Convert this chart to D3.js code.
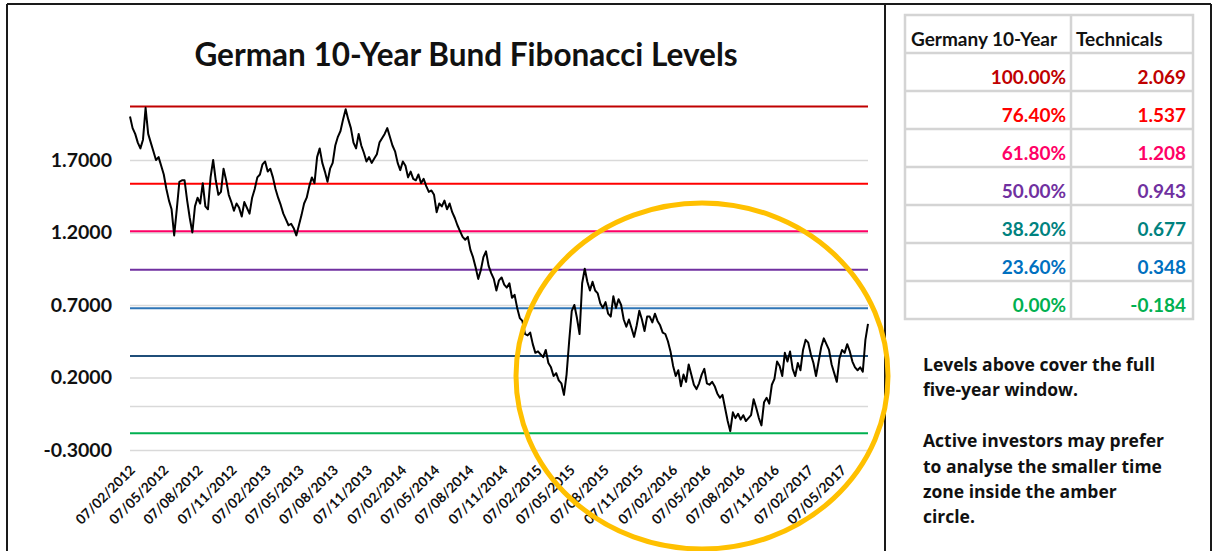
<!DOCTYPE html>
<html><head><meta charset="utf-8">
<script src="https://cdn.jsdelivr.net/npm/d3@7"></script>
<style>
body{margin:0;background:#fff;}
svg{display:block;font-family:Lato,"Open Sans",sans-serif;}
</style></head><body>
<svg id="c" width="1215" height="551"></svg>
<script>
// ---------------- DATA ----------------
const chartTitle = "German 10-Year Bund Fibonacci Levels";
const startDate = "2012-02-03";          // first weekly observation
const weeklyYield = [
  2.00,1.92,1.88,1.82,1.78,1.84,2.06,1.88,1.82,1.76,1.70,1.72,1.66,
  1.60,1.50,1.42,1.36,1.18,1.36,1.55,1.56,1.56,1.42,1.30,1.20,1.38,
  1.44,1.40,1.54,1.38,1.36,1.58,1.70,1.56,1.46,1.48,1.64,1.56,1.46,
  1.41,1.35,1.40,1.37,1.31,1.41,1.37,1.33,1.44,1.50,1.58,1.60,1.67,
  1.69,1.62,1.64,1.58,1.50,1.44,1.39,1.33,1.29,1.25,1.26,1.23,1.18,
  1.25,1.32,1.40,1.44,1.52,1.58,1.54,1.72,1.78,1.68,1.62,1.55,1.64,
  1.68,1.80,1.86,1.90,1.98,2.05,1.98,1.92,1.82,1.78,1.88,1.80,1.75,
  1.69,1.72,1.68,1.71,1.74,1.82,1.85,1.88,1.92,1.86,1.80,1.76,1.68,
  1.63,1.69,1.66,1.58,1.62,1.57,1.56,1.60,1.54,1.57,1.52,1.48,1.49,
  1.46,1.34,1.40,1.38,1.42,1.36,1.40,1.34,1.30,1.25,1.21,1.17,1.15,
  1.17,1.08,1.03,0.96,0.88,0.94,1.03,1.07,0.97,0.92,0.88,0.80,0.87,
  0.89,0.84,0.82,0.85,0.75,0.77,0.68,0.61,0.59,0.50,0.49,0.51,0.43,
  0.37,0.38,0.36,0.34,0.39,0.30,0.27,0.21,0.23,0.18,0.16,0.08,0.22,
  0.45,0.66,0.70,0.61,0.50,0.85,0.95,0.86,0.80,0.86,0.80,0.78,0.71,
  0.68,0.72,0.64,0.62,0.76,0.68,0.74,0.70,0.60,0.55,0.60,0.54,0.48,
  0.56,0.66,0.60,0.52,0.62,0.62,0.58,0.64,0.59,0.56,0.51,0.50,0.45,
  0.38,0.28,0.21,0.25,0.14,0.22,0.17,0.29,0.22,0.15,0.12,0.16,0.22,
  0.26,0.16,0.15,0.17,0.14,0.09,0.06,0.08,-0.01,-0.10,-0.17,-0.04,-0.08,
  -0.05,-0.09,-0.06,-0.10,-0.08,-0.06,0.05,-0.01,-0.08,-0.13,0.03,0.06,0.02,
  0.15,0.19,0.31,0.28,0.21,0.37,0.31,0.38,0.26,0.21,0.30,0.25,0.39,
  0.46,0.44,0.36,0.30,0.21,0.31,0.41,0.47,0.43,0.39,0.29,0.23,0.17,
  0.33,0.39,0.37,0.43,0.38,0.31,0.27,0.25,0.27,0.24,0.46,0.57
];
const xTickLabels = ["07/02/2012","07/05/2012","07/08/2012","07/11/2012","07/02/2013","07/05/2013",
  "07/08/2013","07/11/2013","07/02/2014","07/05/2014","07/08/2014","07/11/2014","07/02/2015",
  "07/05/2015","07/08/2015","07/11/2015","07/02/2016","07/05/2016","07/08/2016","07/11/2016",
  "07/02/2017","07/05/2017"];
const yTickValues = [-0.3, 0.2, 0.7, 1.2, 1.7];
const yAxisMin = -0.3, yAxisMax = 2.2;
const fibPercents = ["100.00%","76.40%","61.80%","50.00%","38.20%","23.60%","0.00%"];
const fibValues   = [2.069, 1.537, 1.208, 0.943, 0.677, 0.348, -0.184];
const tableHeader = ["Germany 10-Year", "Technicals"];
const noteLines = ["Levels above cover the full","five-year window.","",
  "Active investors may prefer","to analyse the smaller time","zone inside the amber","circle."];

// ---------------- STYLE ----------------
const fibLineColors = ["#c00000","#ff0000","#ff0066","#7030a0","#2e75b6","#1f4e79","#00b050"];
const fibTextColors = ["#c00000","#ff0000","#ff0066","#7030a0","#00827f","#0070c0","#00b050"];

// ---------------- BUILD ----------------
const svg = d3.select("#c");
const parseISO = d3.timeParse("%Y-%m-%d");
const parseTick = d3.timeParse("%d/%m/%Y");
const t0 = parseISO(startDate);
const series = weeklyYield.map((v, i) => ({date: d3.timeDay.offset(t0, 7 * i), v}));
const hyphen = f => v => f(v).replace("\u2212", "-");

const plotL = 130, plotR = 868, plotT = 87.5, plotB = 450;
const x = d3.scaleTime().domain(d3.extent(series, d => d.date)).range([plotL, plotR]);
const y = d3.scaleLinear().domain([yAxisMin, yAxisMax]).range([plotB, plotT]);

// frame
const frame = svg.append("g").attr("stroke", "#1a1a1a").attr("stroke-width", 2);
frame.append("line").attr("x1", 7).attr("x2", 1211).attr("y1", 4).attr("y2", 4);
frame.append("line").attr("x1", 7).attr("x2", 7).attr("y1", 4).attr("y2", 551);
frame.append("line").attr("x1", 885).attr("x2", 885).attr("y1", 4).attr("y2", 551);
frame.append("line").attr("x1", 1211).attr("x2", 1211).attr("y1", 4).attr("y2", 551);

// title
svg.append("text").attr("x", 466).attr("y", 66).attr("text-anchor", "middle")
  .attr("font-size", 31.5).attr("font-weight", 700).attr("fill", "#111").text(chartTitle);

// y axis with gridlines
const yAxis = svg.append("g").attr("transform", `translate(${plotL},0)`)
  .call(d3.axisLeft(y).tickValues(yTickValues).tickSize(-(plotR - plotL)).tickPadding(18)
    .tickFormat(hyphen(d3.format(".4f"))));
yAxis.select(".domain").remove();
yAxis.selectAll(".tick line").attr("stroke", "#d9d9d9").attr("stroke-width", 1.5);
yAxis.selectAll(".tick text").attr("font-size", 19.5).attr("font-weight", 700)
  .attr("fill", "#111").attr("font-family", "Lato");

// zero axis line
svg.append("line").attr("x1", plotL).attr("x2", plotR).attr("y1", y(0)).attr("y2", y(0))
  .attr("stroke", "#d9d9d9").attr("stroke-width", 1.5);

// x axis labels
const xAxis = svg.append("g").attr("transform", `translate(0,${plotB})`)
  .call(d3.axisBottom(x).tickValues(xTickLabels.map(parseTick)).tickSize(0)
    .tickFormat(d3.timeFormat("%d/%m/%Y")));
xAxis.select(".domain").remove();
xAxis.selectAll(".tick text").attr("x", 0).attr("y", 0).attr("dy", 0)
  .attr("text-anchor", "end").attr("transform", "translate(4,21) rotate(-45)")
  .attr("font-size", 13.8).attr("font-weight", 700).attr("fill", "#111").attr("font-family", "Lato");

// fibonacci lines
svg.append("g").selectAll("line").data(fibValues).join("line")
  .attr("x1", plotL).attr("x2", plotR).attr("y1", d => y(d)).attr("y2", d => y(d))
  .attr("stroke", (d, i) => fibLineColors[i]).attr("stroke-width", 2);

// yield line
svg.append("path").datum(series)
  .attr("fill", "none").attr("stroke", "#000").attr("stroke-width", 2).attr("stroke-linejoin", "round")
  .attr("d", d3.line().x(d => x(d.date)).y(d => y(d.v)));

// amber circle annotation
svg.append("ellipse").attr("cx", 702).attr("cy", 376).attr("rx", 186).attr("ry", 173)
  .attr("fill", "none").attr("stroke", "#ffc000").attr("stroke-width", 5);

// table
const tbl = svg.append("g");
const tX0 = 905, tX1 = 1071, tX2 = 1193, tY0 = 15, rowH = 38;
const nRows = fibPercents.length + 1;
const fs = 19;
tbl.append("rect").attr("x", tX0).attr("y", tY0).attr("width", tX2 - tX0).attr("height", rowH * nRows)
  .attr("fill", "#fff").attr("stroke", "#d4d4d4").attr("stroke-width", 2.5);
tbl.append("line").attr("x1", tX1).attr("x2", tX1).attr("y1", tY0).attr("y2", tY0 + rowH * nRows)
  .attr("stroke", "#d4d4d4").attr("stroke-width", 2.5);
tbl.selectAll("line.r").data(d3.range(1, nRows)).join("line").attr("class", "r")
  .attr("x1", tX0).attr("x2", tX2).attr("y1", d => tY0 + rowH * d).attr("y2", d => tY0 + rowH * d)
  .attr("stroke", "#d4d4d4").attr("stroke-width", 2.5);
tbl.append("text").attr("x", 911).attr("y", tY0 + rowH - 7).attr("font-size", fs).attr("font-weight", 700)
  .attr("fill", "#111").text(tableHeader[0]);
tbl.append("text").attr("x", 1076).attr("y", tY0 + rowH - 7).attr("font-size", fs).attr("font-weight", 700)
  .attr("fill", "#111").text(tableHeader[1]);
fibPercents.forEach((p, i) => {
  const by = tY0 + rowH * (i + 2) - 7;
  tbl.append("text").attr("x", 1066).attr("y", by).attr("text-anchor", "end").attr("font-size", fs)
    .attr("font-weight", 700).attr("fill", fibTextColors[i]).text(p);
  tbl.append("text").attr("x", 1186).attr("y", by).attr("text-anchor", "end").attr("font-size", fs)
    .attr("font-weight", 700).attr("fill", fibTextColors[i]).text(hyphen(d3.format(".3f"))(fibValues[i]));
});

// notes
svg.append("g").selectAll("text").data(noteLines).join("text")
  .attr("x", 923).attr("y", (d, i) => 371 + i * 25.4)
  .attr("font-size", 17.5).attr("font-weight", 700).attr("fill", "#111")
  .attr("font-family", "'Open Sans'").text(d => d);
</script></body></html>
